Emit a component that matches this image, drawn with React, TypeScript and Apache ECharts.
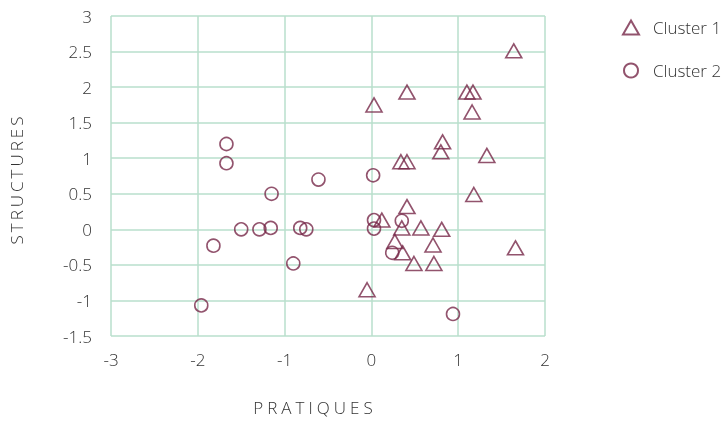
import React, { useEffect, useRef } from "react";
import * as echarts from "echarts";

const cluster1X = [1.64, 0.41, 0.03, 1.10, 1.17, 1.16, 0.82, 0.80, 0.34, 0.41, 1.33, 1.18, 0.41, 0.12, 0.35, 0.57, 0.81, 0.27, 0.71, 0.36, 0.49, 0.72, 1.66, -0.05];
const cluster1Y = [2.51, 1.93, 1.75, 1.93, 1.93, 1.65, 1.23, 1.09, 0.95, 0.95, 1.04, 0.49, 0.32, 0.13, 0.02, 0.02, 0.00, -0.17, -0.22, -0.33, -0.48, -0.48, -0.26, -0.85];
const cluster2X = [-1.67, -1.67, -0.61, -1.15, -1.50, -1.29, -1.16, -0.82, -0.75, -1.82, -0.90, -1.96, 0.02, 0.03, 0.35, 0.03, 0.24, 0.94];
const cluster2Y = [1.20, 0.93, 0.70, 0.50, 0.00, 0.00, 0.02, 0.02, 0.00, -0.23, -0.48, -1.07, 0.76, 0.13, 0.12, 0.01, -0.33, -1.19];
const seriesNames = ["Cluster 1", "Cluster 2"];
const xAxisName = "PRATIQUES";
const yAxisName = "STRUCTURES";

const MAROON = "#772849";
const GRID = "#b9dfcc";
const TEXT = "#333333";
const FONT = "'Open Sans'";

export default function App() {
  const ref = useRef<HTMLDivElement>(null);
  useEffect(() => {
    if (!ref.current) return;
    const chart = echarts.init(ref.current, null, { renderer: "svg" });
    const pts = (xs: number[], ys: number[]) => xs.map((x, i) => [x, ys[i]]);
    chart.setOption({
      animation: false,
      grid: { left: 109, right: 183, top: 16, bottom: 85, containLabel: false },
      legend: {
        orient: "vertical",
        left: 622,
        top: 19,
        padding: 0,
        itemWidth: 16,
        itemHeight: 14,
        itemGap: 26,
        data: seriesNames,
        textStyle: { color: TEXT, fontSize: 17, fontFamily: FONT, fontWeight: 300, padding: [0, 0, 0, 9] },
      },
      xAxis: {
        type: "value",
        min: -3,
        max: 2,
        interval: 1,
        name: xAxisName,
        nameLocation: "middle",
        nameGap: 63,
        nameTextStyle: { color: TEXT, fontSize: 17, fontFamily: FONT + ", axnx", fontWeight: 300, padding: [0, 26, 0, 0] },
        axisLine: { show: false },
        axisTick: { show: false },
        axisLabel: { color: TEXT, fontSize: 17, fontFamily: FONT, fontWeight: 300, margin: 15 },
        splitLine: { show: true, lineStyle: { color: GRID, width: 1.5 } },
      },
      yAxis: {
        type: "value",
        min: -1.5,
        max: 3,
        interval: 0.5,
        name: yAxisName,
        nameLocation: "middle",
        nameGap: 86,
        nameTextStyle: { color: TEXT, fontSize: 17, fontFamily: FONT + ", axny", fontWeight: 300, padding: [0, 6, 0, 0] },
        axisLine: { show: false },
        axisTick: { show: false },
        axisLabel: { color: TEXT, fontSize: 17, fontFamily: FONT, fontWeight: 300, margin: 19, padding: [0, 0, 3, 0] },
        splitLine: { show: true, lineStyle: { color: GRID, width: 1.5 } },
      },
      series: [
        {
          name: seriesNames[0],
          type: "scatter",
          symbol: "triangle",
          symbolSize: [16, 14],
          data: pts(cluster1X, cluster1Y),
          itemStyle: { color: "rgba(255,255,255,0)", borderColor: MAROON, borderWidth: 1.6 },
        },
        {
          name: seriesNames[1],
          type: "scatter",
          symbol: "circle",
          symbolSize: 13,
          data: pts(cluster2X, cluster2Y),
          itemStyle: { color: "rgba(255,255,255,0)", borderColor: MAROON, borderWidth: 1.6 },
        },
      ],
    });
    return () => chart.dispose();
  }, []);
  return (
    <>
      <style>{`text[style*="axnx"] { letter-spacing: 4px; } text[style*="axny"] { letter-spacing: 3px; }`}</style>
      <div ref={ref} style={{ position: "fixed", left: 0, top: 0, width: 728, height: 421 }} />
    </>
  );
}
